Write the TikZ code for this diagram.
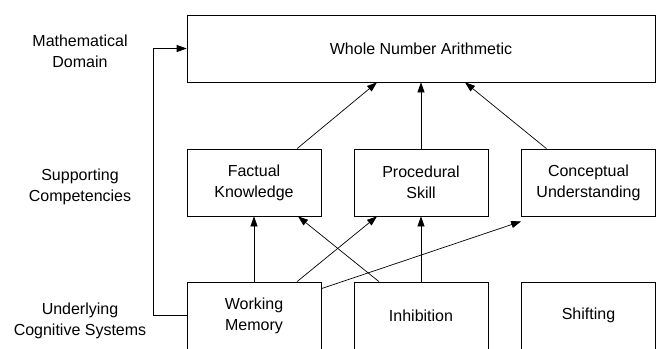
\documentclass[tikz,border=0pt]{standalone}
\usepackage{fontspec}
\setmainfont{Liberation Sans}
\usetikzlibrary{arrows.meta,calc}

\begin{document}
\begin{tikzpicture}[x=1pt,y=-1pt,line width=0.7pt,
        font=\fontsize{16}{21}\selectfont,
        box/.style={draw,align=center,minimum width=134pt,minimum height=67pt,inner sep=2pt},
        lbl/.style={align=center},
        arr/.style={-{Triangle[length=10pt,width=7pt]}}]
        \useasboundingbox(0,0)rectangle(661,348);
        \clip(0,0)rectangle(661,348);
        \node[box,minimum width=468pt](wna)at(421,48.5){Whole Number Arithmetic};
        \node[box](fk)at(254,182.5){Factual\\Knowledge};
        \node[box](ps)at(421,182.5){Procedural\\Skill};
        \node[box](cu)at(588.5,182.5){Conceptual\\Understanding};
        \node[box](wm)at(254,315.5){Working\\Memory};
        \node[box](inh)at(421,315.5){Inhibition};
        \node[box](sh)at(588.5,315.5){Shifting};
        \node[lbl](lbdomain)at(80,51){Mathematical\\Domain};
        \node[lbl](lbsupport)at(80,187){Supporting\\Competencies};
        \node[lbl](lbsystem)at(80,321){Underlying\\Cognitive Systems};
        \draw[arr]([xshift=43pt]fk.north)--([xshift=-44pt]wna.south);
        \draw[arr](ps.north)--(wna.south);
        \draw[arr]([xshift=-42pt]cu.north)--([xshift=44pt]wna.south);
        \draw[arr](wm.north)--(fk.south);
        \draw[arr]([xshift=43pt]wm.north)--([xshift=-44pt]ps.south);
        \draw[arr]([yshift=-7pt]wm.north east)--([yshift=-5pt]cu.south west);
        \draw[arr]([xshift=-42pt]inh.north)--([xshift=44pt]fk.south);
        \draw[arr](inh.north)--(ps.south);
        \draw[arr](wm.west)--++(-33,0)|-(wna.west);
    \end{tikzpicture}
\end{document}
